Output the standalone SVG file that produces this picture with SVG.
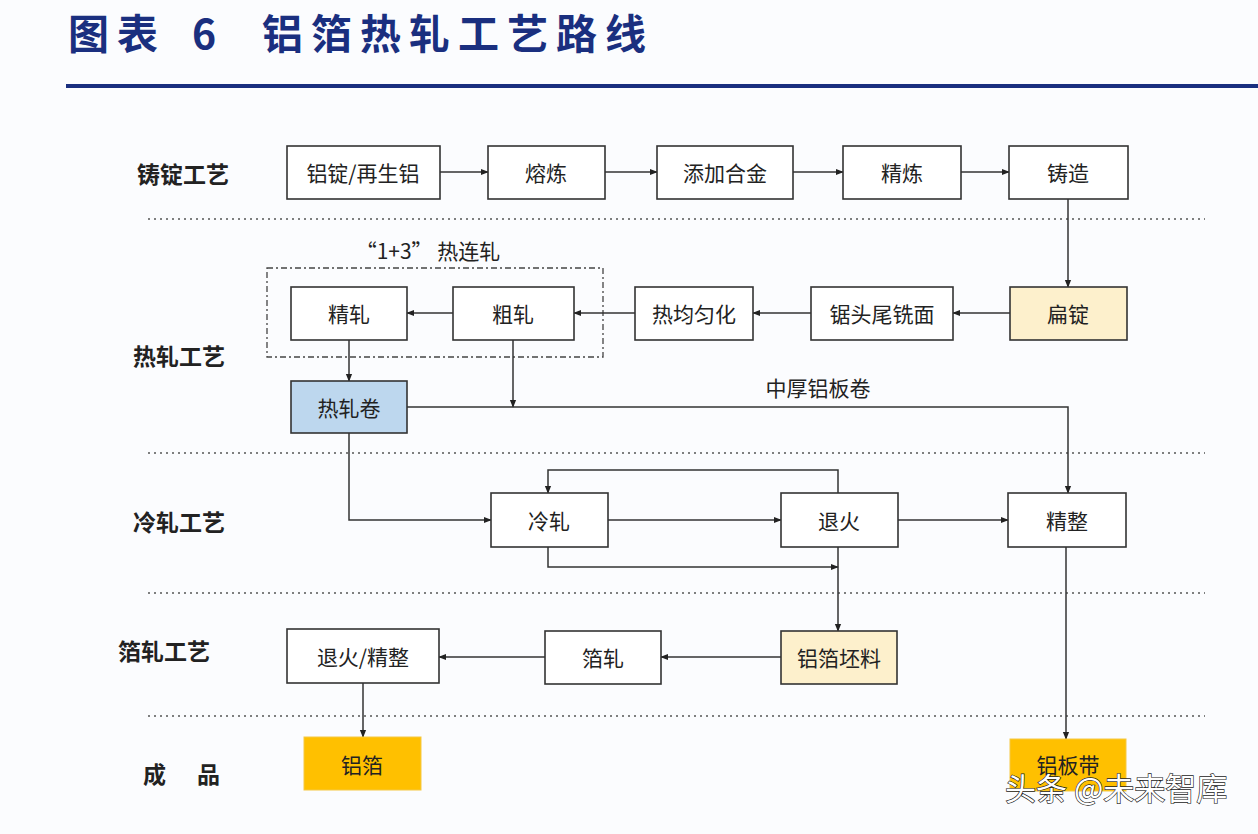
<svg xmlns="http://www.w3.org/2000/svg" width="1258" height="834" viewBox="0 0 1258 834">
<defs>
<marker id="arr" viewBox="0 0 10 10" refX="9" refY="5" markerWidth="8" markerHeight="8" markerUnits="userSpaceOnUse" orient="auto">
<path d="M0,1 L10,5 L0,9 Z" fill="#222"/>
</marker>
<style>
.box{fill:#fff;stroke:#333;stroke-width:1.6}
.yl{fill:#fdf0cc}
.bl{fill:#bdd7ee}
.gd{fill:#ffc000;stroke:#f5c842;stroke-width:1}
.t{font-family:"Noto Sans CJK SC","Noto Sans",sans-serif;font-size:21px;fill:#222;text-anchor:middle;dominant-baseline:central}
.lab{font-family:"Noto Sans CJK SC",sans-serif;font-size:23px;font-weight:bold;fill:#222;dominant-baseline:central}
.ttl{font-family:"Noto Sans CJK SC",sans-serif;font-size:41px;font-weight:bold;fill:#1a2f7f;letter-spacing:8px}
.dot{stroke:#555;stroke-width:1.5;stroke-dasharray:2 4;fill:none}
.ca{stroke:#333;stroke-width:1.5;fill:none;marker-end:url(#arr)}
</style>
</defs>
<rect width="1258" height="834" fill="#fbfcfe"/>
<g id="title">
<text class="ttl" x="68" y="49">图表</text>
<text class="ttl" x="192" y="49">6</text>
<text class="ttl" x="262" y="49">铝箔热轧工艺路线</text>
<rect x="66" y="84" width="1192" height="4" fill="#1a2f7f"/>
</g>
<g id="separators">
<line class="dot" x1="148" y1="219" x2="1205" y2="219"/>
<line class="dot" x1="148" y1="453" x2="1205" y2="453"/>
<line class="dot" x1="148" y1="593" x2="1205" y2="593"/>
<line class="dot" x1="148" y1="716" x2="1205" y2="716"/>
</g>
<g id="row-labels">
<text class="lab" x="137" y="173">铸锭工艺</text>
<text class="lab" x="133" y="355">热轧工艺</text>
<text class="lab" x="133" y="521">冷轧工艺</text>
<text class="lab" x="118" y="650">箔轧工艺</text>
<text class="lab" x="143" y="773">成</text>
<text class="lab" x="197" y="773">品</text>
</g>
<g id="hot-continuous-frame">
<rect x="267" y="268" width="336" height="89" fill="none" stroke="#444" stroke-width="1.3" stroke-dasharray="6 3 2 3"/>
<text class="t" x="428" y="250" font-size="18">“1+3” 热连轧</text>
</g>
<g id="connectors">
<line class="ca" x1="440" y1="172" x2="488" y2="172"/>
<line class="ca" x1="605" y1="172" x2="657" y2="172"/>
<line class="ca" x1="793" y1="172" x2="843" y2="172"/>
<line class="ca" x1="961" y1="172" x2="1009" y2="172"/>
<line class="ca" x1="1068" y1="199" x2="1068" y2="287"/>
<line class="ca" x1="1010" y1="313" x2="953" y2="313"/>
<line class="ca" x1="811" y1="313" x2="753" y2="313"/>
<line class="ca" x1="635" y1="313" x2="574" y2="313"/>
<line class="ca" x1="453" y1="313" x2="407" y2="313"/>
<line class="ca" x1="349" y1="340" x2="349" y2="381"/>
<line class="ca" x1="513" y1="340" x2="513" y2="407"/>
<polyline class="ca" points="407,407 1068,407 1068,493"/>
<polyline class="ca" points="349,433 349,520 491,520"/>
<line class="ca" x1="608" y1="520" x2="781" y2="520"/>
<line class="ca" x1="898" y1="520" x2="1008" y2="520"/>
<polyline class="ca" points="838,493 838,470 548,470 548,493"/>
<polyline class="ca" points="548,547 548,567 838,567"/>
<line class="ca" x1="838" y1="547" x2="838" y2="631"/>
<line class="ca" x1="781" y1="657" x2="661" y2="657"/>
<line class="ca" x1="545" y1="657" x2="439" y2="657"/>
<line class="ca" x1="363" y1="683" x2="363" y2="737"/>
<line class="ca" x1="1066" y1="547" x2="1066" y2="739"/>
<text class="t" x="818" y="387" font-size="18">中厚铝板卷</text>
</g>
<g id="n-ingot"><rect class="box" x="287" y="146" width="153" height="53"/><text class="t" x="363" y="172">铝锭/再生铝</text></g>
<g id="n-smelt"><rect class="box" x="488" y="146" width="117" height="53"/><text class="t" x="546" y="172">熔炼</text></g>
<g id="n-alloy"><rect class="box" x="657" y="146" width="136" height="53"/><text class="t" x="725" y="172">添加合金</text></g>
<g id="n-refine"><rect class="box" x="843" y="146" width="118" height="53"/><text class="t" x="902" y="172">精炼</text></g>
<g id="n-cast"><rect class="box" x="1009" y="146" width="119" height="53"/><text class="t" x="1068" y="172">铸造</text></g>
<g id="n-slab"><rect class="box yl" x="1010" y="287" width="117" height="53"/><text class="t" x="1068" y="313">扁锭</text></g>
<g id="n-saw"><rect class="box" x="811" y="287" width="142" height="53"/><text class="t" x="882" y="313">锯头尾铣面</text></g>
<g id="n-homog"><rect class="box" x="635" y="287" width="118" height="53"/><text class="t" x="694" y="313">热均匀化</text></g>
<g id="n-rough"><rect class="box" x="453" y="287" width="121" height="53"/><text class="t" x="513" y="313">粗轧</text></g>
<g id="n-finish-roll"><rect class="box" x="291" y="287" width="116" height="53"/><text class="t" x="349" y="313">精轧</text></g>
<g id="n-hot-coil"><rect class="box bl" x="291" y="381" width="116" height="52"/><text class="t" x="349" y="407">热轧卷</text></g>
<g id="n-cold"><rect class="box" x="491" y="493" width="117" height="54"/><text class="t" x="549" y="520">冷轧</text></g>
<g id="n-anneal"><rect class="box" x="781" y="493" width="117" height="54"/><text class="t" x="839" y="520">退火</text></g>
<g id="n-finishing"><rect class="box" x="1008" y="493" width="118" height="54"/><text class="t" x="1067" y="520">精整</text></g>
<g id="n-foilstock"><rect class="box yl" x="781" y="631" width="116" height="53"/><text class="t" x="839" y="657">铝箔坯料</text></g>
<g id="n-foilroll"><rect class="box" x="545" y="631" width="116" height="53"/><text class="t" x="603" y="657">箔轧</text></g>
<g id="n-anneal-finish"><rect class="box" x="287" y="629" width="152" height="54"/><text class="t" x="363" y="656">退火/精整</text></g>
<g id="n-foil"><rect class="gd" x="304" y="737" width="117" height="53"/><text class="t" x="362" y="764">铝箔</text></g>
<g id="n-strip"><rect class="gd" x="1010" y="739" width="116" height="52"/><text class="t" x="1068" y="764">铝板带</text></g>
<g id="watermark">
<text x="1005" y="800" font-family="Noto Sans CJK SC,sans-serif" font-size="31" fill="#fff" stroke="#222" stroke-width="1.3" paint-order="stroke">头条 @未来智库</text>
</g>
</svg>
